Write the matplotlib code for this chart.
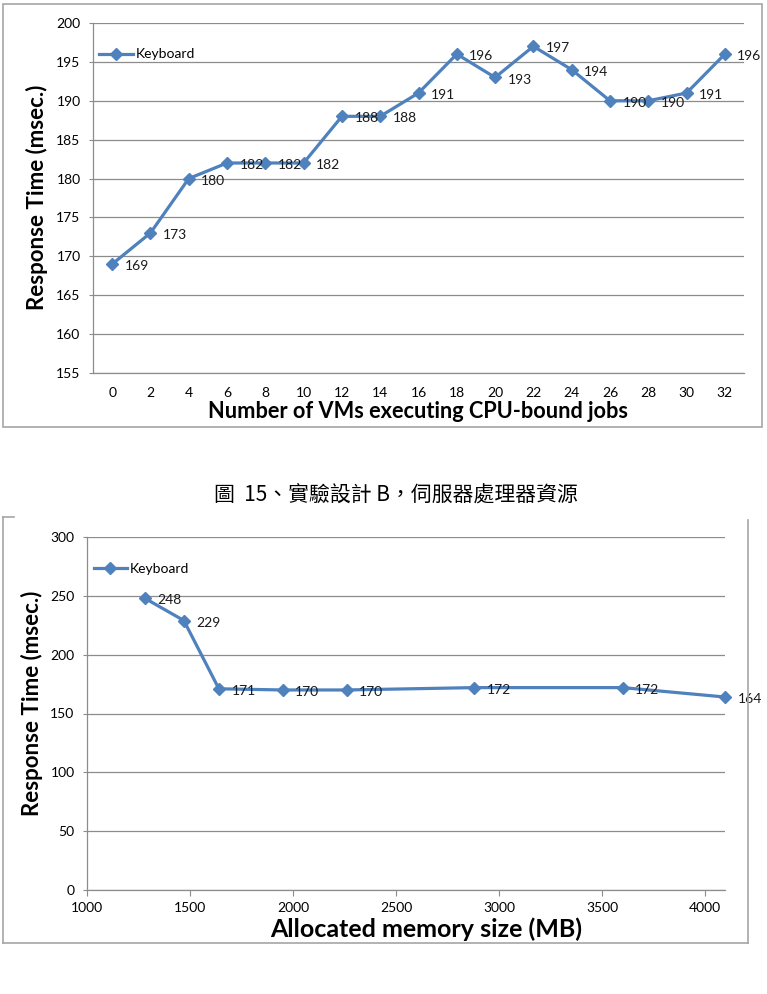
import matplotlib
matplotlib.use("Agg")
import matplotlib.pyplot as plt
from matplotlib.lines import Line2D

plt.rcParams['font.family'] = ['Lato', 'Noto Sans CJK TC', 'DejaVu Sans']

# chart 1: processor resources
vmCounts = [0, 2, 4, 6, 8, 10, 12, 14, 16, 18, 20, 22, 24, 26, 28, 30, 32]
cpuResp = [169, 173, 180, 182, 182, 182, 188, 188, 191, 196, 193, 197, 194, 190, 190, 191, 196]
cpuYTicks = [155, 160, 165, 170, 175, 180, 185, 190, 195, 200]

# chart 2: memory resources
memSizes = [1280, 1470, 1640, 1950, 2260, 2880, 3600, 4096]
memResp = [248, 229, 171, 170, 170, 172, 172, 164]
memXTicks = [1000, 1500, 2000, 2500, 3000, 3500, 4000]
memYTicks = [0, 50, 100, 150, 200, 250, 300]

seriesName = "Keyboard"
caption = "圖  15、實驗設計 B，伺服器處理器資源"

BLUE = "#4F81BD"
GRID = "#8C8C8C"
BOX = "#A6A6A6"
W, H = 767, 994


def px(x, y):
    return x / W, 1 - y / H


def styleAxes(ax, xTicks=True):
    for s in ['top', 'right']:
        ax.spines[s].set_visible(False)
    for s in ['left', 'bottom']:
        ax.spines[s].set_color(GRID)
        ax.spines[s].set_linewidth(0.9)
    ax.grid(axis='y', color=GRID, linewidth=0.9)
    ax.set_axisbelow(True)
    ax.tick_params(axis='y', length=3, color=GRID, labelsize=10, pad=6)
    if xTicks:
        ax.tick_params(axis='x', length=4, color=GRID, labelsize=10, pad=5)
    else:
        ax.tick_params(axis='x', length=0, labelsize=10, pad=10)


def drawSeries(ax, xs, ys):
    ax.plot(xs, ys, color=BLUE, linewidth=2.3, marker='D', markersize=6.5,
            label=seriesName, clip_on=False, zorder=3)
    for x, y in zip(xs, ys):
        ax.annotate(str(y), (x, y), xytext=(9, -1.5), textcoords='offset points',
                    ha='left', va='center', fontsize=10, color='#1a1a1a', zorder=4)


fig = plt.figure(figsize=(W / 100, H / 100), dpi=100)

# frames round each chart
fig.add_artist(plt.Rectangle(px(3, 427), 759 / W, 423 / H, transform=fig.transFigure,
                             fill=False, edgecolor=BOX, linewidth=1.2))
for seg in [((3, 517), (3, 943)), ((3, 943), (748, 943)), ((748, 520), (748, 943)), ((3, 517), (14, 517))]:
    (x0, y0), (x1, y1) = seg
    a, b = px(x0, y0)
    c, d = px(x1, y1)
    fig.add_artist(Line2D([a, c], [b, d], transform=fig.transFigure, color=BOX, linewidth=1.2))

# top chart
ax1 = fig.add_axes([93 / W, 1 - 373 / H, 651 / W, 350 / H])
drawSeries(ax1, vmCounts, cpuResp)
ax1.set_xlim(-1, 33)
ax1.set_ylim(155, 200)
ax1.set_xticks(vmCounts)
ax1.set_yticks(cpuYTicks)
styleAxes(ax1, xTicks=False)
ax1.legend(loc='upper left', bbox_to_anchor=(-0.005, 0.955), frameon=False, fontsize=10,
           handlelength=2.4, handletextpad=0.2, borderaxespad=0.3)
fig.text(*px(418, 412), "Number of VMs executing CPU-bound jobs", ha='center', va='center',
         fontsize=15.7, fontweight='bold')
fig.text(*px(37, 197), "Response Time (msec.)", ha='center', va='center', rotation=90,
         fontsize=16, fontweight='bold')

fig.text(*px(396, 495), caption, ha='center', va='center', fontsize=15,
         family=['Noto Sans CJK TC', 'DejaVu Sans'])

# bottom chart
ax2 = fig.add_axes([87 / W, 1 - 890 / H, 638 / W, 353 / H])
drawSeries(ax2, memSizes, memResp)
ax2.set_xlim(1000, 4096)
ax2.set_ylim(0, 300)
ax2.set_xticks(memXTicks)
ax2.set_yticks(memYTicks)
styleAxes(ax2, xTicks=True)
ax2.legend(loc='upper left', bbox_to_anchor=(-0.005, 0.955), frameon=False, fontsize=10,
           handlelength=2.4, handletextpad=0.2, borderaxespad=0.3)
fig.text(*px(426, 929), "Allocated memory size (MB)", ha='center', va='center',
         fontsize=18, fontweight='bold')
fig.text(*px(32, 703), "Response Time (msec.)", ha='center', va='center', rotation=90,
         fontsize=16, fontweight='bold')

fig.savefig("out.png", dpi=100)
